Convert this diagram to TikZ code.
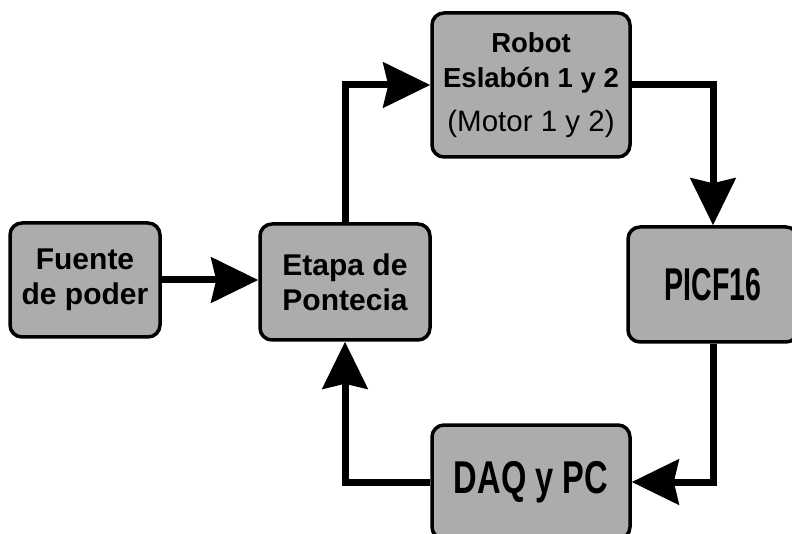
\documentclass[tikz,border=0pt]{standalone}
\usepackage{fontspec}
\usepackage{graphicx}
\setmainfont{Liberation Sans}
\usetikzlibrary{arrows.meta}
\definecolor{boxgray}{RGB}{172,172,172}
\newcommand{\rbfont}{\bfseries\fontsize{27.5}{35}\selectfont}
\newcommand{\mtfont}{\mdseries\fontsize{29.5}{35}\selectfont}
\begin{document}
\begin{tikzpicture}[x=1pt,y=-1pt,
  blk/.style={draw=black, line width=3.5pt, fill=boxgray, rounded corners=12pt,
    align=center, inner sep=0pt, font=\bfseries\fontsize{30}{35}\selectfont},
  link/.style={line width=7pt, -{Stealth[length=47pt,width=45pt,inset=5pt]}}]
\useasboundingbox (0,0) rectangle (792,534);
\clip (0,0) rectangle (792,534);
\node[blk, minimum width=150pt, minimum height=114pt] (fuente) at (85,280) {Fuente\\de poder};
\node[blk, minimum width=170pt, minimum height=116pt] (etapa) at (345,282) {Etapa de\\Pontecia};
\node[blk, minimum width=198pt, minimum height=144pt] (robot) at (531,85)
  {\rbfont Robot\\\rbfont Eslabón 1 y 2\\[9pt]\mtfont (Motor 1 y 2)};
\node[blk, minimum width=170pt, minimum height=115pt] (pic) at (713,284.5)
  {\fontsize{46}{50}\selectfont\scalebox{0.62}[1]{PICF16}};
\node[blk, minimum width=198pt, minimum height=114pt] (daq) at (531,482)
  {\fontsize{46}{50}\selectfont\scalebox{0.71}[1]{DAQ y PC}};
\draw[link] (fuente.east) -- (fuente.east -| etapa.west);
\draw[link] (etapa.north) |- (robot.west);
\draw[link] (robot.east) -| (pic.north);
\draw[link] (pic.south) |- (daq.east);
\draw[link] (daq.west) -| (etapa.south);
\end{tikzpicture}
\end{document}
